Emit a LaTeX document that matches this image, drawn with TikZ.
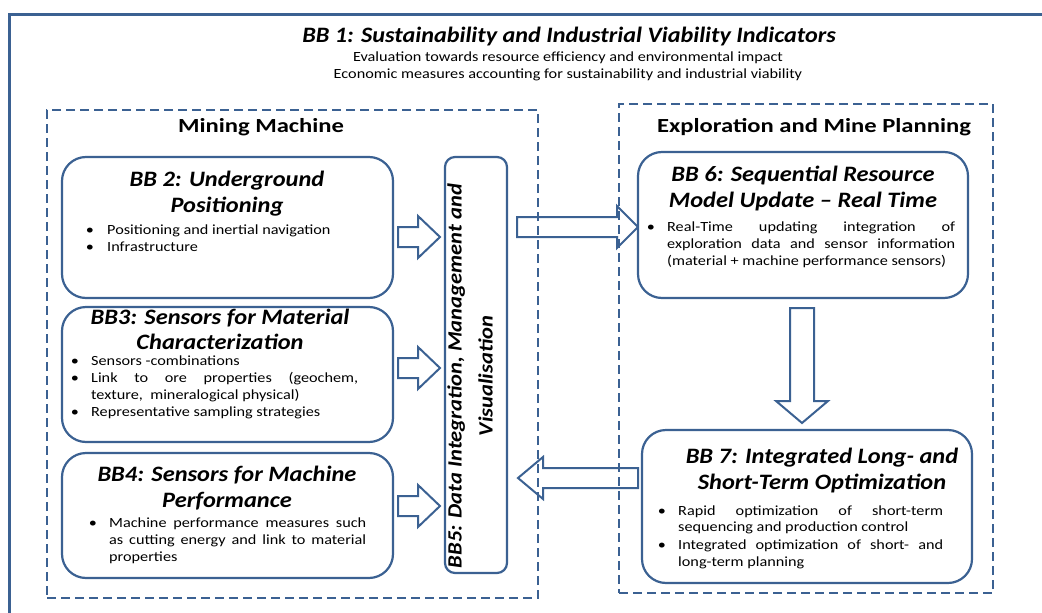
\documentclass[tikz,border=0pt]{standalone}
\usepackage{fontspec}
\setmainfont{Carlito}
\newfontfamily\bodyfont[FakeStretch=1.16]{Carlito}
\newfontfamily\titlefont[FakeStretch=1.11]{Carlito}
\newfontfamily\hdrfont[FakeStretch=1.23]{Carlito}
\newfontfamily\topfont[FakeStretch=1.1]{Carlito}
\definecolor{bbblue}{HTML}{3B6192}
\begin{document}
\begin{tikzpicture}[x=1pt,y=-1pt,
  frame/.style={draw=bbblue, line width=2.5pt, dash pattern=on 9pt off 5pt, inner sep=0pt},
  bbbox/.style={draw=bbblue, line width=2.2pt, rounded corners=24pt, fill=white, inner sep=0pt},
  arrowline/.style={draw=bbblue, line width=2pt, fill=white, line join=miter},
  ttl/.style={font=\titlefont\bfseries\itshape\fontsize{22}{26}\selectfont, align=center, inner sep=0pt},
  hdr/.style={font=\hdrfont\bfseries\fontsize{20}{24}\selectfont, inner sep=0pt},
  ln/.style={anchor=base west, inner sep=0pt, font=\bodyfont\fontsize{14}{17}\selectfont},
  bl/.style={anchor=base, inner sep=0pt, font=\bodyfont\fontsize{14}{17}\selectfont},
  sub/.style={font=\bodyfont\fontsize{14}{17}\selectfont, inner sep=0pt}
]
\useasboundingbox (0,0) rectangle (1042,613);
% outer frame
\draw[draw=bbblue, line width=3pt] (9,613) -- (9,14) -- (1042,14);
% BB1
\node[font=\topfont\bfseries\itshape\fontsize{22}{25}\selectfont, inner sep=0pt] (bb1) at (569,37) {BB 1: Sustainability and Industrial Viability Indicators};
\node[sub] (bb1a) at (568,58) {Evaluation towards resource efficiency and environmental impact};
\node[sub] (bb1b) at (568,75) {Economic measures accounting for sustainability and industrial viability};

% block arrows (drawn below the dashed frames)
\draw[arrowline] (398,227) -- (418,227) -- (418,216) -- (440,237) -- (418,258) -- (418,247) -- (398,247) -- cycle;
\draw[arrowline] (398,358) -- (418,358) -- (418,347) -- (440,368) -- (418,389) -- (418,378) -- (398,378) -- cycle;
\draw[arrowline] (398,496) -- (418,496) -- (418,485) -- (440,506) -- (418,527) -- (418,516) -- (398,516) -- cycle;
\draw[arrowline] (517,217) -- (617,217) -- (617,206) -- (638,227) -- (617,248) -- (617,237) -- (517,237) -- cycle;
\draw[arrowline] (638,468) -- (543,468) -- (543,457) -- (518,478) -- (543,499) -- (543,488) -- (638,488) -- cycle;
\draw[arrowline] (790,308) -- (814,308) -- (814,401) -- (828,401) -- (802,423) -- (776,401) -- (790,401) -- cycle;

% dashed frames
\node[frame, minimum width=491pt, minimum height=488pt] (mining) at (292.5,354) {};
\node[frame, minimum width=374pt, minimum height=489pt] (explor) at (806,348.5) {};
\node[hdr] (mmh) at (261,127) {Mining Machine};
\node[hdr] (exh) at (814,127) {Exploration and Mine Planning};

% boxes
\node[bbbox, minimum width=331pt, minimum height=141pt] (bb2) at (227.5,227.5) {};
\node[bbbox, minimum width=331pt, minimum height=135pt] (bb3) at (227.5,374.5) {};
\node[bbbox, minimum width=331pt, minimum height=125pt] (bb4) at (227.5,515.5) {};
\node[bbbox, rounded corners=10pt, minimum width=62pt, minimum height=416pt] (bb5) at (476,365) {};
\node[bbbox, minimum width=330pt, minimum height=146pt] (bb6) at (803,225) {};
\node[bbbox, minimum width=330pt, minimum height=153pt] (bb7) at (807,506.5) {};

% BB2
\node[ttl] (bb2t) at (227,193.5) {BB 2: Underground\\Positioning};
\node[bl] (bb2b1) at (90,234) {\textbullet};
\node[ln] (bb2l1) at (107,234) {Positioning and inertial navigation};
\node[bl] (bb2b2) at (90,251) {\textbullet};
\node[ln] (bb2l2) at (107,251) {Infrastructure};

% BB3
\node[ttl, font=\titlefont\bfseries\itshape\fontsize{22}{25}\selectfont] (bb3t) at (220,329.5) {BB3: Sensors for Material\\Characterization};
\node[bl] (bb3b1) at (75,365) {\textbullet};
\node[ln] (bb3l1) at (91,365) {Sensors -combinations};
\node[bl] (bb3b2) at (75,382) {\textbullet};
\node[ln] (bb3l2) at (91,382) {\makebox[267pt][s]{Link to ore properties (geochem,}};
\node[ln] (bb3l3) at (91,399) {texture,\ \ mineralogical physical)};
\node[bl] (bb3b3) at (75,416) {\textbullet};
\node[ln] (bb3l4) at (91,416) {Representative sampling strategies};

% BB4
\node[ttl] (bb4t) at (227,488) {BB4: Sensors for Machine\\Performance};
\node[bl] (bb4b1) at (93,527) {\textbullet};
\node[ln] (bb4l1) at (109,527) {\makebox[257pt][s]{Machine performance measures such}};
\node[ln] (bb4l2) at (109,544) {\makebox[257pt][s]{as cutting energy and link to material}};
\node[ln] (bb4l3) at (109,561) {properties};

% BB5
\node[ttl, rotate=90, font=\titlefont\bfseries\itshape\fontsize{20.3}{31}\selectfont] (bb5t) at (470,376) {BB5: Data Integration, Management and\\Visualisation};

% BB6
\node[ttl] (bb6t) at (803,189) {BB 6: Sequential Resource\\Model Update – Real Time};
\node[bl] (bb6b1) at (651,231) {\textbullet};
\node[ln] (bb6l1) at (667,231) {\makebox[288pt][s]{Real-Time updating integration of}};
\node[ln] (bb6l2) at (667,248) {\makebox[288pt][s]{exploration data and sensor information}};
\node[ln] (bb6l3) at (667,265) {(material + machine performance sensors)};

% BB7
\node[ttl] (bb7t) at (822,471) {BB 7: Integrated Long- and\\Short-Term Optimization};
\node[bl] (bb7b1) at (662,515) {\textbullet};
\node[ln] (bb7l1) at (678,515) {\makebox[265pt][s]{Rapid optimization of short-term}};
\node[ln] (bb7l2) at (678,531) {sequencing and production control};
\node[bl] (bb7b2) at (662,549) {\textbullet};
\node[ln] (bb7l3) at (678,549) {\makebox[265pt][s]{Integrated optimization of short- and}};
\node[ln] (bb7l4) at (678,566) {long-term planning};
\end{tikzpicture}
\end{document}
